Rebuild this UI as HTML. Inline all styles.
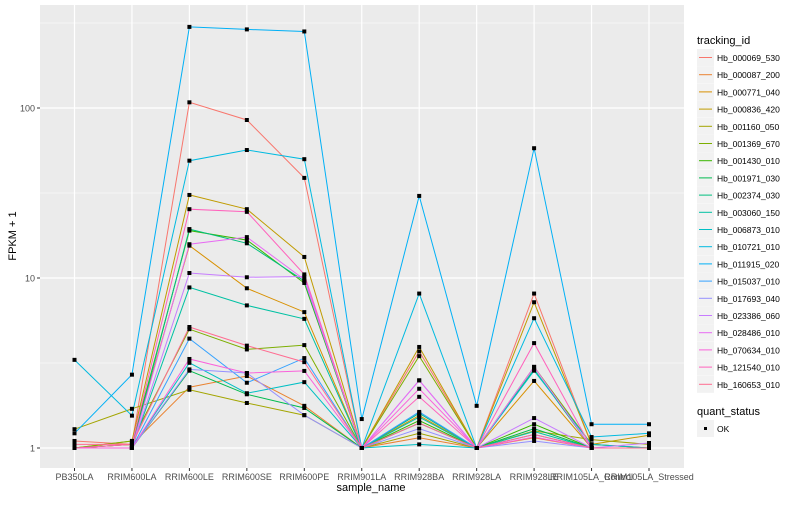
<!DOCTYPE html>
<html><head><meta charset="utf-8"><style>
body{margin:0;background:#fff;font-family:"Liberation Sans",sans-serif;}
svg text{font-family:"Liberation Sans",sans-serif;}
</style></head><body>
<svg id="chart" width="800" height="500" xmlns="http://www.w3.org/2000/svg">
<rect x="40" y="5" width="644" height="463" fill="#ebebeb"/>
<g id="grid"></g>
<g id="lines"></g>
<g id="points"></g>
<g id="axes"></g>
<text x="371" y="491" font-size="11" text-anchor="middle" fill="#000">sample_name</text>
<text x="16" y="236" font-size="11" text-anchor="middle" fill="#000" transform="rotate(-90 16 236)">FPKM + 1</text>
<g id="legend"></g>
</svg>
<script>
const categories=["PB350LA","RRIM600LA","RRIM600LE","RRIM600SE","RRIM600PE","RRIM901LA","RRIM928BA","RRIM928LA","RRIM928LE","RRIM105LA_Control","RRIM105LA_Stressed"];
const seriesNames=["Hb_000069_530","Hb_000087_200","Hb_000771_040","Hb_000836_420","Hb_001160_050","Hb_001369_670","Hb_001430_010","Hb_001971_030","Hb_002374_030","Hb_003060_150","Hb_006873_010","Hb_010721_010","Hb_011915_020","Hb_015037_010","Hb_017693_040","Hb_023386_060","Hb_028486_010","Hb_070634_010","Hb_121540_010","Hb_160653_010"];
const seriesColors=["#F8766D","#EA8331","#D89000","#C09B00","#A3A500","#7CAE00","#39B600","#00BB4E","#00BF7D","#00C1A3","#00BFC4","#00BAE0","#00B0F6","#35A2FF","#9590FF","#C77CFF","#E76BF3","#FA62DB","#FF62BC","#FF6C91"];
const s0=[1.1,1.05,108,85,38.8,1,3.7,1,8.1,1.05,1.0];
const s1=[1,1.05,2.28,2.65,1.77,1,1.15,1,1.15,1,1];
const s2=[1,1.05,15.5,8.7,6.3,1,1.55,1,2.48,1,1];
const s3=[1,1.1,30.8,25.4,13.3,1,3.93,1,7.2,1.05,1.19];
const s4=[1.29,1.7,2.2,1.84,1.56,1,1.22,1,1.26,1.12,1.05];
const s5=[1,1.1,5.0,3.8,4.03,1,3.47,1,3.0,1.05,1.0];
const s6=[1,1.05,19,16.7,9.35,1,1.45,1,1.38,1,1];
const s7=[1,1.0,2.85,2.07,1.72,1,1.4,1,1.3,1,1];
const s8=[1,1.0,19.4,16,9.6,1,1.6,1,2.9,1,1.0];
const s9=[1,1.0,8.8,6.9,5.75,1,1.52,1,1.25,1,1];
const s10=[1,1.0,3.17,2.1,2.44,1,1.05,1,2.85,1.05,1.0];
const s11=[3.3,1.55,49,56.6,50,1,8.1,1,5.8,1.16,1.22];
const s12=[1.22,2.7,300,290,282,1.48,30.4,1.77,58,1.38,1.38];
const s13=[1,1.0,4.4,2.42,3.38,1,1.63,1,1.2,1,1];
const s14=[1,1.0,2.9,2.76,1.56,1,1.3,1,1.1,1,1.0];
const s15=[1,1.0,10.7,10.1,10.2,1,2.5,1,1.5,1,1.07];
const s16=[1,1.0,15.8,17.4,9.8,1,2.5,1,3.0,1,1];
const s17=[1,1.0,3.34,2.76,2.84,1,2.23,1,1.16,1,1];
const s18=[1,1.05,25.4,24.5,10.5,1,2.0,1,4.14,1,1];
const s19=[1.05,1.05,5.15,4.0,3.2,1,1.4,1,1.2,1,1];
const allSeries=[s0,s1,s2,s3,s4,s5,s6,s7,s8,s9,s10,s11,s12,s13,s14,s15,s16,s17,s18,s19];
const yTicks=[1,10,100];
const yTickLabels=["1","10","100"];
const yMinor=[Math.sqrt(10),Math.sqrt(1000),Math.sqrt(100000)];

const NS="http://www.w3.org/2000/svg";
function xScale(i){return 74.5+i*57.45;}
function yScale(v){return 448-170*Math.log10(v);}
function mk(tag,attrs,parent){const e=document.createElementNS(NS,tag);for(const k in attrs)e.setAttribute(k,attrs[k]);parent.appendChild(e);return e;}
const grid=document.getElementById('grid'),lines=document.getElementById('lines'),pts=document.getElementById('points'),axes=document.getElementById('axes'),legend=document.getElementById('legend');

yMinor.forEach(v=>{const y=yScale(v);if(y<5)return;
 const l=mk('line',{x1:40,x2:684,y1:y,y2:y,stroke:'#fff','stroke-width':0.6},grid);
 
 });
yTicks.forEach((v,i)=>{const y=yScale(v);
 const l=mk('line',{x1:40,x2:684,y1:y,y2:y,stroke:'#fff','stroke-width':1.2},grid);
 
 
 mk('line',{x1:37,x2:40,y1:y,y2:y,stroke:'#333','stroke-width':1},axes);
 const t=mk('text',{x:35,y:y+3.5,'font-size':9,'text-anchor':'end',fill:'#4d4d4d'},axes);
 t.textContent=yTickLabels[i];
 
 });
categories.forEach((c,i)=>{const x=xScale(i);
 const l=mk('line',{x1:x,x2:x,y1:5,y2:468,stroke:'#fff','stroke-width':1.2},grid);
 
 
 mk('line',{x1:x,x2:x,y1:468,y2:471,stroke:'#333','stroke-width':1},axes);
 const t=mk('text',{x:x,y:480,'font-size':9,'text-anchor':'middle',fill:'#4d4d4d'},axes);
 t.textContent=c;
 
 });

allSeries.forEach((s,k)=>{
 const d=s.map((v,i)=>(i?'L':'M')+xScale(i).toFixed(1)+','+yScale(v).toFixed(1)).join(' ');
 const p=mk('path',{d:d,fill:'none',stroke:seriesColors[k],'stroke-width':1},lines);
 
 
 s.forEach((v,i)=>{
  const r=mk('rect',{x:xScale(i)-2,y:yScale(v)-2,width:4,height:4,fill:'#000'},pts);
  
  });
});

let t=mk('text',{x:697,y:44,'font-size':11,fill:'#000'},legend);
t.textContent='tracking_id';


seriesNames.forEach((n,k)=>{const y=49+k*17.2;
 const g=mk('g',{},legend);
 
 
 mk('rect',{x:697,y:y,width:17,height:17,fill:'#f2f2f2'},g);
 mk('line',{x1:699,x2:712,y1:y+8.5,y2:y+8.5,stroke:seriesColors[k],'stroke-width':1},g);
 const tt=mk('text',{x:717,y:y+12,'font-size':8.5,fill:'#000'},g);tt.textContent=n;});
t=mk('text',{x:697,y:415,'font-size':11,fill:'#000'},legend);
t.textContent='quant_status';


const g2=mk('g',{},legend);


mk('rect',{x:697,y:420,width:17,height:17,fill:'#f2f2f2'},g2);
mk('rect',{x:704,y:427,width:3,height:3,fill:'#000'},g2);
const ok=mk('text',{x:717,y:432,'font-size':8.5,fill:'#000'},g2);ok.textContent='OK';
</script>
</body></html>
